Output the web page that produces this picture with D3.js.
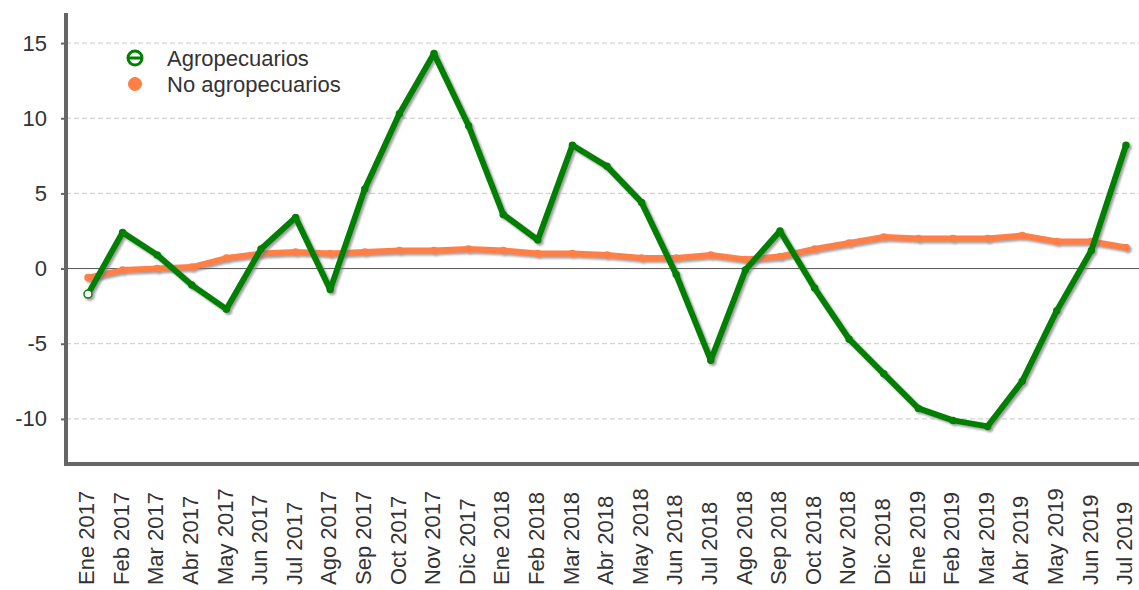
<!DOCTYPE html>
<html>
<head>
<meta charset="utf-8">
<script src="https://cdn.jsdelivr.net/npm/d3@7"></script>
<style>
  body { margin: 0; background: #fff; }
  text { font-family: "Liberation Sans", Arial, sans-serif; fill: #333; }
</style>
</head>
<body>
<div id="chart"></div>
<script>
const meses = ["Ene 2017", "Feb 2017", "Mar 2017", "Abr 2017", "May 2017", "Jun 2017", "Jul 2017", "Ago 2017",
  "Sep 2017", "Oct 2017", "Nov 2017", "Dic 2017", "Ene 2018", "Feb 2018", "Mar 2018", "Abr 2018",
  "May 2018", "Jun 2018", "Jul 2018", "Ago 2018", "Sep 2018", "Oct 2018", "Nov 2018", "Dic 2018",
  "Ene 2019", "Feb 2019", "Mar 2019", "Abr 2019", "May 2019", "Jun 2019", "Jul 2019"];

const agropecuarios = [-1.7, 2.4, 0.9, -1.1, -2.7, 1.3, 3.4, -1.4, 5.3, 10.3, 14.3, 9.5,
  3.6, 1.9, 8.2, 6.8, 4.4, -0.4, -6.1, -0.1, 2.5, -1.3, -4.7, -7.0,
  -9.3, -10.1, -10.5, -7.5, -2.8, 1.2, 8.2];

const noAgropecuarios = [-0.6, -0.1, 0.0, 0.1, 0.7, 1.0, 1.1, 1.0, 1.1, 1.2, 1.2, 1.3,
  1.2, 1.0, 1.0, 0.9, 0.7, 0.7, 0.9, 0.6, 0.8, 1.3, 1.7, 2.1,
  2.0, 2.0, 2.0, 2.2, 1.8, 1.8, 1.4];

const yTicks = [-10, -5, 0, 5, 10, 15];

const series = [
  { nombre: "Agropecuarios", valores: agropecuarios, color: "#008000" },
  { nombre: "No agropecuarios", valores: noAgropecuarios, color: "#ff7f46" }
];

const width = 1139;
const height = 590;
const plot = { left: 66, right: 1139, top: 13, bottom: 464 };

const svg = d3.select("#chart")
  .append("svg")
  .attr("width", width)
  .attr("height", height);

const defs = svg.append("defs");
defs.append("filter")
  .attr("id", "sombra")
  .attr("x", "-10%").attr("y", "-10%")
  .attr("width", "120%").attr("height", "120%")
  .append("feDropShadow")
  .attr("dx", 2).attr("dy", 2)
  .attr("stdDeviation", 0.8)
  .attr("flood-color", "#777")
  .attr("flood-opacity", 0.7);

const x = d3.scalePoint()
  .domain(meses)
  .range([88, 1126]);

const y = d3.scaleLinear()
  .domain([-13, 17])
  .range([plot.bottom, plot.top]);

// grid
svg.append("g")
  .selectAll("line")
  .data(yTicks.filter(d => d !== 0))
  .enter()
  .append("line")
  .attr("x1", plot.left)
  .attr("x2", plot.right)
  .attr("y1", d => y(d))
  .attr("y2", d => y(d))
  .attr("stroke", "#c8c8c8")
  .attr("stroke-width", 1)
  .attr("stroke-dasharray", "5,3");

svg.append("line")
  .attr("x1", plot.left)
  .attr("x2", plot.right)
  .attr("y1", y(0))
  .attr("y2", y(0))
  .attr("stroke", "#555")
  .attr("stroke-width", 1);

// y axis
const yAxis = svg.append("g")
  .attr("transform", `translate(${plot.left},0)`)
  .call(d3.axisLeft(y).tickValues(yTicks).tickSize(5).tickPadding(14).tickFormat(d => String(d)));
yAxis.select(".domain").remove();
yAxis.selectAll(".tick line").attr("stroke", "#666").attr("stroke-width", 2);
yAxis.selectAll("text")
  .style("font-size", "22px")
  .style("fill", "#333");

// x axis labels, start-anchored at the bottom and reading upwards
const xAxis = svg.append("g")
  .attr("transform", `translate(0,${plot.bottom})`)
  .call(d3.axisBottom(x).tickSize(0));
xAxis.select(".domain").remove();
xAxis.selectAll("text")
  .style("font-size", "22px")
  .style("fill", "#333")
  .style("text-anchor", "start")
  .attr("transform", "rotate(-90)")
  .attr("x", -121)
  .attr("y", -2)
  .attr("dy", "0.35em");

// axis lines
svg.append("line")
  .attr("x1", plot.left).attr("x2", plot.left)
  .attr("y1", plot.top).attr("y2", plot.bottom + 2)
  .attr("stroke", "#666").attr("stroke-width", 4);
svg.append("line")
  .attr("x1", plot.left - 2).attr("x2", plot.right)
  .attr("y1", plot.bottom).attr("y2", plot.bottom)
  .attr("stroke", "#666").attr("stroke-width", 4);

const linea = d3.line()
  .x((d, i) => x(meses[i]))
  .y(d => y(d));

// naranja primero, verde encima
const ordenDibujo = [series[1], series[0]];
ordenDibujo.forEach(s => {
  const g = svg.append("g").attr("filter", "url(#sombra)");
  g.append("path")
    .datum(s.valores)
    .attr("fill", "none")
    .attr("stroke", s.color)
    .attr("stroke-width", 6)
    .attr("stroke-linejoin", "round")
    .attr("stroke-linecap", "round")
    .attr("d", linea);
  g.selectAll("circle")
    .data(s.valores)
    .enter()
    .append("circle")
    .attr("cx", (d, i) => x(meses[i]))
    .attr("cy", d => y(d))
    .attr("r", (d, i) => (i === 0 && s.nombre === "Agropecuarios") ? 4 : 3)
    .attr("fill", (d, i) => (i === 0 && s.nombre === "Agropecuarios") ? "#fff" : s.color)
    .attr("stroke", s.color)
    .attr("stroke-width", 1.5);
});

// leyenda
const leyenda = svg.append("g").attr("transform", "translate(121,58)");
series.forEach((s, i) => {
  const fila = leyenda.append("g").attr("transform", `translate(0,${i * 26})`);
  fila.append("line")
    .attr("x1", 0).attr("x2", 28)
    .attr("y1", 0).attr("y2", 0)
    .attr("stroke", s.color)
    .attr("stroke-width", 5)
    .attr("filter", "url(#sombra)");
  fila.append("circle")
    .attr("cx", 14).attr("cy", 0)
    .attr("r", i === 0 ? 7 : 6.5)
    .attr("fill", i === 0 ? "#fff" : s.color)
    .attr("stroke", s.color)
    .attr("stroke-width", i === 0 ? 3 : 1);
  if (i === 0) {
    fila.append("line")
      .attr("x1", 7).attr("x2", 21)
      .attr("y1", 0).attr("y2", 0)
      .attr("stroke", s.color)
      .attr("stroke-width", 3);
  }
  fila.append("text")
    .attr("x", 46)
    .attr("y", 0)
    .attr("dy", "0.35em")
    .style("font-size", "22px")
    .text(s.nombre);
});
</script>
</body>
</html>
